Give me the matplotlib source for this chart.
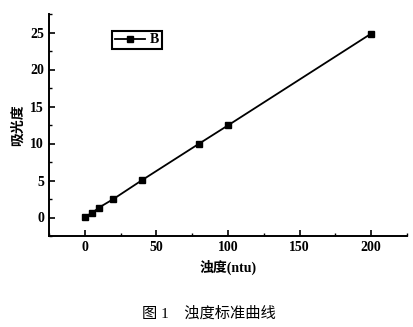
import matplotlib
matplotlib.use("Agg")
import matplotlib.pyplot as plt
from matplotlib.ticker import MultipleLocator

# 浊度标准曲线
turbidity = [0, 5, 10, 20, 40, 80, 100, 200]
absorbance = [0.1, 0.6, 1.35, 2.5, 5.05, 10.0, 12.45, 24.85]

FONTS = ["Liberation Serif", "Noto Sans CJK SC"]
plt.rcParams["font.family"] = FONTS

fig = plt.figure(figsize=(4.14, 3.27), dpi=100)
ax = fig.add_axes([49 / 414, 1 - 236 / 327, 358 / 414, 222 / 327])

ax.plot(turbidity, absorbance, "-s", color="black", lw=1.3, ms=4.5, label="B")

ax.set_xlim(-25, 225)
ax.set_ylim(-2.5, 27.5)
ax.xaxis.set_major_locator(MultipleLocator(50))
ax.xaxis.set_minor_locator(MultipleLocator(25))
ax.yaxis.set_major_locator(MultipleLocator(5))
ax.yaxis.set_minor_locator(MultipleLocator(2.5))
ax.tick_params(which="major", direction="in", length=4, width=1.2, labelsize=10)
ax.tick_params(which="minor", direction="in", length=2.5, width=1)
for lab in ax.get_xticklabels() + ax.get_yticklabels():
    lab.set_fontweight("bold")

for side in ("top", "right"):
    ax.spines[side].set_visible(False)
for side in ("left", "bottom"):
    ax.spines[side].set_linewidth(1.4)

ax.set_xlabel("浊度(ntu)", fontsize=10, fontweight="bold", labelpad=4)
ax.set_ylabel("吸光度", fontsize=10, fontweight="bold", labelpad=4)

leg = ax.legend(loc="upper left", bbox_to_anchor=(0.176, 0.925), borderaxespad=0,
                fancybox=False, edgecolor="black", framealpha=1, handlelength=2.2,
                handletextpad=0.3, borderpad=0.2, fontsize=10)
leg.get_frame().set_linewidth(1.5)
for t in leg.get_texts():
    t.set_fontweight("bold")

fig.text(0.505, 1 - 314 / 327, "图 1    浊度标准曲线", ha="center", va="center", fontsize=11)

fig.savefig("out.png", dpi=100)
